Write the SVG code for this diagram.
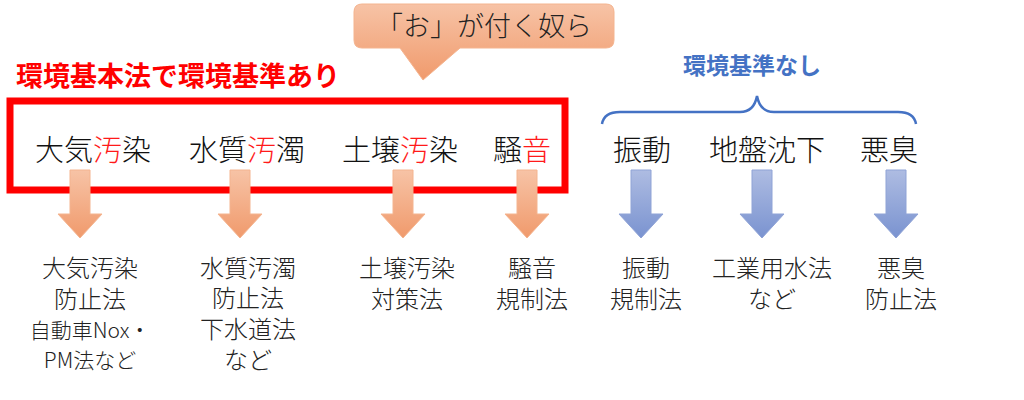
<svg xmlns="http://www.w3.org/2000/svg" width="1024" height="400" viewBox="0 0 1024 400">
<defs>
<linearGradient id="og" x1="0" y1="0" x2="0" y2="1"><stop offset="0" stop-color="#f7c3a6"/><stop offset="1" stop-color="#f09a6c"/></linearGradient>
<linearGradient id="bg" x1="0" y1="0" x2="0" y2="1"><stop offset="0" stop-color="#aebce2"/><stop offset="1" stop-color="#7a93d0"/></linearGradient>
<style>
text{font-family:"Noto Sans CJK JP","Noto Sans",sans-serif}
.h{font-size:29px;font-weight:300;fill:#111;text-anchor:middle}
.b{font-size:24px;font-weight:300;fill:#222;text-anchor:middle}
.r{fill:#ff1a1a}
.oa{fill:url(#og);stroke:#f4b48f;stroke-width:1}
.ba{fill:url(#bg);stroke:#8fa3d6;stroke-width:1}
</style>
<path id="arr" d="M-10,170 H10 V214 H22 L0,238 L-22,214 H-10 Z"/>
</defs>
<g id="callout">
<path d="M362,4 H606 Q614,4 614,12 V40 Q614,48 606,48 H460 L423,80 L400,48 H362 Q354,48 354,40 V12 Q354,4 362,4 Z" fill="url(#og)" stroke="#f4b48f"/>
<text x="484" y="36" style="font-size:27px;font-weight:300;fill:#222;text-anchor:middle">「お」が付く奴ら</text>
</g>
<g id="redgroup">
<text x="16" y="86" style="font-size:27px;font-weight:bold;fill:#ff0000">環境基本法で環境基準あり</text>
<rect x="10" y="101" width="555" height="89" fill="none" stroke="#ff0000" stroke-width="7"/>
</g>
<g id="bluegroup">
<text x="752" y="74" style="font-size:23px;font-weight:bold;fill:#4472c4;text-anchor:middle">環境基準なし</text>
<path d="M602,124 Q604,112 620,112 H740 Q754,112 757,96 Q760,112 774,112 H898 Q914,112 916,124" fill="none" stroke="#4472c4" stroke-width="2.5"/>
</g>
<g id="n1"><text class="h" x="93" y="161">大気<tspan class="r">汚</tspan>染</text>
<text class="b" x="90" y="277">大気汚染</text><text class="b" x="90" y="308">防止法</text><text class="b" x="90" y="338" style="font-size:21px">自動車Nox・</text><text class="b" x="90" y="368" style="font-size:21px">PM法など</text></g>
<g id="n2"><text class="h" x="247" y="161">水質<tspan class="r">汚</tspan>濁</text>
<text class="b" x="248" y="277">水質汚濁</text><text class="b" x="248" y="307">防止法</text><text class="b" x="248" y="338">下水道法</text><text class="b" x="248" y="369">など</text></g>
<g id="n3"><text class="h" x="400" y="161">土壌<tspan class="r">汚</tspan>染</text>
<text class="b" x="407" y="277">土壌汚染</text><text class="b" x="407" y="308">対策法</text></g>
<g id="n4"><text class="h" x="522" y="161">騒<tspan class="r">音</tspan></text>
<text class="b" x="532" y="277">騒音</text><text class="b" x="532" y="308">規制法</text></g>
<g id="n5"><text class="h" x="642" y="161">振動</text>
<text class="b" x="646" y="277">振動</text><text class="b" x="646" y="308">規制法</text></g>
<g id="n6"><text class="h" x="767" y="161">地盤沈下</text>
<text class="b" x="772" y="277">工業用水法</text><text class="b" x="772" y="308">など</text></g>
<g id="n7"><text class="h" x="889" y="161">悪臭</text>
<text class="b" x="901" y="277">悪臭</text><text class="b" x="901" y="308">防止法</text></g>
<g id="connectors">
<use href="#arr" x="80" class="oa"/>
<use href="#arr" x="240" class="oa"/>
<use href="#arr" x="403" class="oa"/>
<use href="#arr" x="527" class="oa"/>
<use href="#arr" x="641" class="ba"/>
<use href="#arr" x="762" class="ba"/>
<use href="#arr" x="896" class="ba"/>
</g>
</svg>
